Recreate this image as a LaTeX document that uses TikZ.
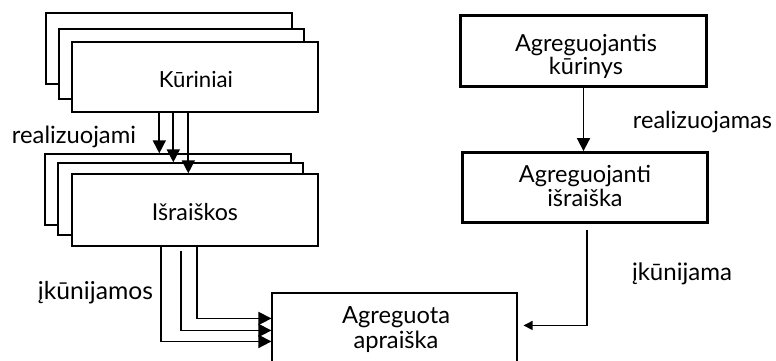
\documentclass[tikz,border=0pt]{standalone}
\usepackage{fontspec}
\setmainfont{Lato}
\usepackage{graphicx}
\usetikzlibrary{arrows.meta,calc}
% set a word to a given width (in pt)
\newcommand{\fitw}[2]{\resizebox{#1pt}{!}{#2}}
% two centred lines, row stretch #1, scaled to width #2 (in pt)
\newcommand{\twoln}[4]{{\renewcommand{\arraystretch}{#1}\resizebox{#2pt}{!}{\begin{tabular}{@{}c@{}}#3\\#4\end{tabular}}}}
\tikzset{
  box/.style={draw=black, line width=1.4pt, fill=white, inner sep=0pt},
  bigbox/.style={box, line width=1.8pt},
  txt/.style={inner sep=0pt, anchor=base},
  ctxt/.style={inner sep=0pt},
  arr/.style={line width=1.7pt, -{Triangle[length=13pt,width=13pt]}},
  thinarr/.style={line width=1.2pt, -{Triangle[length=9pt,width=9pt]}},
}
\begin{document}
\begin{tikzpicture}[x=1pt, y=-1pt]
  \clip (0,0) rectangle (776,360);
  \fill[white] (0,0) rectangle (776,360);

  % stack of works
  \node[box, minimum width=246, minimum height=71] (kb) at (169,48.5) {};
  \node[box, minimum width=245, minimum height=70] (km) at (181.5,64) {};
  \node[box, minimum width=246, minimum height=70] (kf) at (195,77) {};
  \node[txt] (kft) at (196,87) {\fitw{74}{Kūriniai}};

  % stack of expressions
  \node[box, minimum width=246, minimum height=71] (ib) at (168,189.5) {};
  \node[box, minimum width=245, minimum height=72] (im) at (180.5,199) {};
  \node[box, minimum width=246, minimum height=72] (if) at (195,210) {};
  \node[txt] (ift) at (195,220) {\fitw{86}{Išraiškos}};

  % aggregate manifestation (continues below the page edge)
  \node[box, line width=1.1pt, minimum width=245, minimum height=80] (ag) at (394.5,333) {};
  \node[ctxt] (agt) at (396,331) {\twoln{0.82}{108}{Agreguota}{apraiška}};

  % aggregating work and expression, framed by a double rule
  \node[bigbox, minimum width=247, minimum height=72] (rk) at (583.5,51) {};
  \node[bigbox, minimum width=246, minimum height=71] (ri) at (585,187.5) {};
  \foreach \n in {rk,ri}
    \draw[line width=0.8pt] ($(\n.north west)+(2.7,2.7)$) rectangle ($(\n.south east)+(-2.7,-2.7)$);
  \node[ctxt] (rkt) at (586,57.6) {\twoln{0.74}{142}{Agreguojantis}{kūrinys}};
  \node[ctxt] (rit) at (585,189.4) {\twoln{0.84}{132}{Agreguojanti}{išraiška}};

  % works realised through expressions
  \coordinate (a1) at ($(kf.south west)+(88,0)$);
  \coordinate (a2) at ($(kf.south west)+(102,0)$);
  \coordinate (a3) at ($(kf.south west)+(117,0)$);
  \draw[arr] (a1) -- (a1 |- ib.north);
  \draw[arr] (a2) -- (a2 |- im.north);
  \draw[arr] (a3) -- (a3 |- if.north);

  % expressions embodied in the manifestation
  \coordinate (b1) at ($(if.south west)+(90,0)$);
  \coordinate (b2) at ($(if.south west)+(110,4)$);
  \coordinate (b3) at ($(if.south west)+(126,0)$);
  \draw[arr] (b1) |- ($(ag.north west)+(0,49)$);
  \draw[arr] (b2) |- ($(ag.north west)+(0,38)$);
  \draw[arr] (b3) |- ($(ag.north west)+(0,26)$);

  % aggregating side
  \coordinate (c1) at (rk.south);
  \draw[arr] (c1) -- (c1 |- ri.north);
  \coordinate (d1) at ($(ri.south)+(2,6)$);
  \coordinate (d2) at ($(ag.north east)+(6,33)$);
  \draw[thinarr] (d1) |- (d2);

  % relationship labels
  \node[txt] (l1) at (74,143) {\fitw{124}{realizuojami}};
  \node[txt] (l2) at (95.5,299) {\fitw{115}{įkūnijamos}};
  \node[txt] (l3) at (702.5,128) {\fitw{139}{realizuojamas}};
  \node[txt] (l4) at (682,280) {\fitw{100}{įkūnijama}};
\end{tikzpicture}
\end{document}
